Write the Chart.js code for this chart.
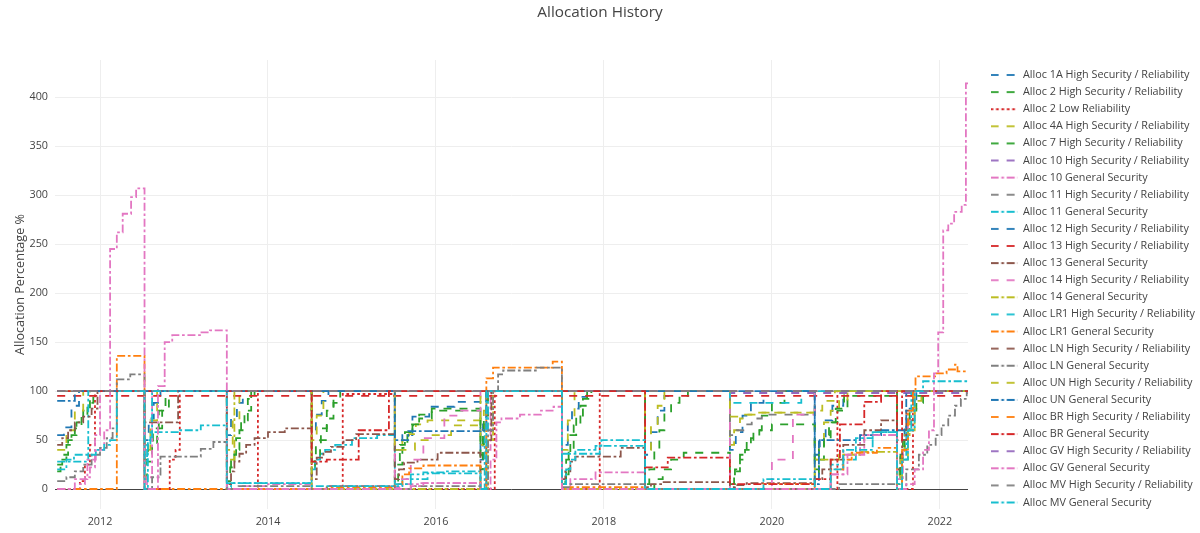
<!DOCTYPE html>
<html>
<head>
<meta charset="utf-8">
<title>Allocation History</title>
<script src="https://cdn.jsdelivr.net/npm/chart.js@4"></script>
<style>
  body { margin: 0; background: #fff; }
  #wrap { position: relative; width: 1200px; height: 533px; }
</style>
</head>
<body>
<div id="wrap"><canvas id="allocChart"></canvas></div>
<script>
// step series, [decimal year, allocation %]
const alloc1A = [[2011.49,55],[2011.57,63],[2011.66,85],[2011.75,100],
  [2012.53,50],[2012.58,72],[2012.64,88],[2012.72,100],
  [2013.51,55],[2013.56,72],[2013.63,88],[2013.7,100],
  [2014.52,60],[2014.57,76],[2014.64,90],[2014.72,100],
  [2015.51,40],[2015.6,55],[2015.72,74],[2015.92,84],[2016.22,89],
  [2016.53,30],[2016.56,66],[2016.6,100],
  [2017.5,45],[2017.57,70],[2017.62,82],[2017.7,94],[2017.8,100],
  [2018.49,35],[2018.56,58],[2018.64,80],[2018.72,95],[2018.82,100],
  [2019.5,40],[2019.57,58],[2019.65,75],[2019.75,88],[2019.9,100],
  [2020.51,35],[2020.57,52],[2020.64,70],[2020.72,85],[2020.85,100],
  [2021.49,10],[2021.53,40],[2021.58,66],[2021.64,82],[2021.72,100],[2022.34,100]];
const alloc2High = [[2011.49,18],[2011.53,30],[2011.6,45],[2011.66,55],[2011.72,68],[2011.8,80],[2011.88,100],
  [2012.53,10],[2012.56,28],[2012.62,45],[2012.68,62],[2012.74,80],[2012.82,100],
  [2013.51,8],[2013.55,22],[2013.6,40],[2013.66,60],[2013.72,80],[2013.8,100],
  [2014.52,15],[2014.56,30],[2014.62,50],[2014.7,72],[2014.78,88],[2014.86,100],
  [2015.51,5],[2015.55,25],[2015.6,42],[2015.66,55],[2015.72,65],[2015.8,72],[2015.95,80],
  [2016.53,20],[2016.56,60],[2016.6,100],
  [2017.5,5],[2017.54,15],[2017.58,40],[2017.64,65],[2017.72,85],[2017.8,100],
  [2018.49,5],[2018.54,20],[2018.6,40],[2018.66,60],[2018.72,78],[2018.8,88],[2018.9,95],[2019.0,100],
  [2019.5,5],[2019.55,18],[2019.62,35],[2019.7,48],[2019.78,60],[2019.88,75],[2020.0,88],[2020.15,100],
  [2020.51,10],[2020.56,30],[2020.62,50],[2020.7,68],[2020.78,80],[2020.9,95],
  [2021.49,5],[2021.52,25],[2021.56,50],[2021.62,70],[2021.7,88],[2021.8,100],[2022.34,100]];
const alloc2Low = [[2011.49,0],[2011.76,8],[2011.82,25],[2011.88,45],[2011.94,100],
  [2012.53,0],[2012.83,30],[2012.9,40],[2012.95,100],
  [2013.51,0],[2013.88,100],
  [2014.52,0],[2014.89,97],
  [2015.51,0],[2016.53,0],[2016.7,100],
  [2017.5,0],[2017.95,100],
  [2018.49,0],[2020.51,0],[2020.78,100],
  [2021.49,0],[2021.68,100],[2022.34,100]];
const alloc4A = [[2011.49,40],[2011.6,60],[2011.7,80],[2011.8,100],
  [2012.53,40],[2012.6,70],[2012.68,100],
  [2013.51,40],[2013.58,70],[2013.66,100],
  [2014.52,50],[2014.58,75],[2014.66,100],
  [2015.51,40],[2015.6,50],[2015.68,56],[2015.76,66],[2015.9,70],
  [2016.53,45],[2016.57,80],[2016.61,100],
  [2017.5,40],[2017.57,70],[2017.65,100],
  [2018.49,40],[2018.56,65],[2018.64,85],[2018.72,100],
  [2019.5,45],[2019.55,60],[2019.62,72],[2019.7,76],[2019.85,78],
  [2020.51,30],[2020.56,50],[2020.62,68],[2020.7,80],[2020.8,90],[2020.9,100],
  [2021.49,5],[2021.53,30],[2021.58,55],[2021.64,75],[2021.7,90],[2021.78,100],[2022.34,100]];
const alloc7 = [[2011.49,25],[2011.55,35],[2011.62,50],[2011.7,62],[2011.78,75],[2011.85,88],[2011.92,100],
  [2012.53,30],[2012.57,48],[2012.63,62],[2012.7,80],[2012.78,100],
  [2013.51,20],[2013.56,35],[2013.62,52],[2013.68,70],[2013.76,92],[2013.84,100],
  [2014.52,28],[2014.57,45],[2014.63,62],[2014.7,80],[2014.78,100],
  [2015.51,25],[2015.57,45],[2015.63,58],[2015.7,66],[2015.8,76],[2015.95,82],
  [2016.53,35],[2016.57,75],[2016.62,100],
  [2017.5,10],[2017.55,30],[2017.6,55],[2017.67,75],[2017.75,92],[2017.85,100],
  [2018.49,0],[2018.6,10],[2018.7,20],[2018.8,30],[2018.95,37],
  [2019.5,5],[2019.56,20],[2019.62,30],[2019.68,40],[2019.75,52],[2019.85,60],[2020.0,66],
  [2020.51,20],[2020.56,40],[2020.62,55],[2020.68,68],[2020.76,82],[2020.86,100],
  [2021.49,10],[2021.53,35],[2021.58,60],[2021.64,80],[2021.72,95],[2021.82,100],[2022.34,100]];
const alloc10High = [[2011.49,100],[2019.5,98],[2022.34,98]];
const alloc10Gen = [[2011.49,0],[2011.76,5],[2011.82,12],[2011.88,22],[2011.94,55],[2012.0,100],
  [2012.53,0],[2012.56,12],[2012.62,100],
  [2013.51,0],[2013.7,3],[2014.0,5],
  [2014.52,0],[2014.7,3],
  [2015.51,2],[2015.6,5],[2015.8,6],
  [2016.53,0],[2016.6,40],[2016.65,100],
  [2017.5,0],[2017.6,10],[2017.9,17],
  [2018.49,0],[2020.7,15],[2020.85,35],[2021.05,55],
  [2021.49,10],[2021.56,40],[2021.62,70],[2021.7,100],[2022.34,100]];
const alloc11High = [[2011.49,100],[2019.5,55],[2019.58,60],[2019.66,66],[2019.76,72],[2019.88,76],[2020.51,100],[2022.34,100]];
const alloc11Gen = [[2011.49,28],[2011.86,100],
  [2012.53,25],[2012.56,45],[2012.6,58],[2012.95,60],[2013.2,65],
  [2013.51,2],[2013.56,6],
  [2014.52,20],[2014.56,30],[2014.62,36],[2014.68,40],[2014.8,45],[2015.0,52],[2015.3,55],
  [2015.51,3],[2015.6,10],[2015.7,15],[2015.85,17],[2016.1,18],
  [2016.53,0],[2016.58,60],[2016.62,100],
  [2017.5,36],[2017.95,44],
  [2018.49,0],[2020.7,25],[2020.85,30],[2021.0,40],[2021.2,58],
  [2021.49,5],[2021.55,30],[2021.6,60],[2021.66,100],[2022.34,100]];
const alloc12High = [[2011.49,100],[2022.34,100]];
const alloc13High = [[2011.49,95],[2022.34,95]];
const alloc13Gen = [[2011.49,45],[2011.55,52],[2011.62,60],[2011.7,68],[2011.8,74],[2011.9,82],[2011.97,100],
  [2012.53,68],[2012.93,100],
  [2013.51,5],[2013.56,18],[2013.6,28],[2013.66,36],[2013.74,45],[2013.84,52],[2014.0,58],[2014.2,62],
  [2014.52,10],[2014.58,32],[2014.66,38],[2014.75,43],[2014.9,50],[2015.05,56],
  [2015.51,10],[2015.56,20],[2015.62,27],[2015.78,30],[2016.02,37],
  [2016.53,0],[2016.6,50],[2016.66,100],
  [2017.5,10],[2017.54,18],[2017.6,28],[2017.66,33],[2018.2,42],
  [2018.49,2],[2018.56,5],[2018.7,7],
  [2019.5,2],[2019.56,4],[2019.7,6],
  [2020.51,10],[2020.6,20],[2020.7,30],[2020.85,45],[2021.1,60],[2021.3,70],
  [2021.49,20],[2021.55,50],[2021.6,80],[2021.68,100],[2022.34,100]];
const alloc14High = [[2011.49,100],[2015.51,10],[2015.7,30],[2015.85,52],[2016.1,75],[2016.3,80],[2016.53,100],
  [2019.5,0],[2020.0,30],[2020.25,76],[2020.51,100],[2022.34,100]];
const alloc14Gen = [[2011.49,100],[2013.51,30],[2013.6,100],[2014.52,0],[2016.53,0],[2016.62,50],[2016.68,100],
  [2017.5,0],[2020.51,30],[2020.8,35],[2021.05,38],
  [2021.49,0],[2021.55,30],[2021.62,60],[2021.7,100],[2022.34,100]];
const allocLR1High = [[2011.49,100],[2019.5,88],[2020.35,100],[2022.34,100]];
const allocLR1Gen = [[2011.49,0],[2012.2,136],[2012.53,0],[2014.7,2],
  [2015.51,5],[2015.6,15],[2015.68,21],[2015.85,24],
  [2016.53,0],[2016.6,113],[2016.68,124],[2017.39,130],
  [2017.5,0],[2017.6,2],[2018.49,0],[2019.9,5],
  [2020.51,0],[2020.7,20],[2020.85,30],[2020.95,37],[2021.25,42],
  [2021.49,0],[2021.55,40],[2021.62,80],[2021.68,100],[2021.71,115],[2021.96,118],[2022.08,122],[2022.18,127],[2022.21,120],[2022.34,120]];
const allocLNHigh = [[2011.49,100],[2022.34,100]];
const allocLNGen = [[2011.49,8],[2011.6,12],[2011.7,18],[2011.8,25],[2011.9,35],[2012.0,42],[2012.08,52],[2012.15,62],[2012.2,112],[2012.36,117],
  [2012.53,0],[2012.62,12],[2012.72,33],[2013.2,41],[2013.35,48],
  [2013.51,0],[2013.65,3],[2014.52,0],[2014.7,3],[2015.51,0],[2015.7,3],
  [2016.53,0],[2016.62,60],[2016.68,100],[2016.74,117],[2016.8,121],[2017.2,124],
  [2017.5,2],[2017.6,5],[2018.49,0],[2020.8,5],
  [2021.49,0],[2021.6,20],[2021.75,35],[2021.85,45],[2021.95,55],[2022.02,65],[2022.1,75],[2022.18,85],[2022.25,92],[2022.32,100],[2022.34,100]];
const allocUNHigh = [[2011.49,100],[2015.51,40],[2015.75,50],[2015.92,55],[2016.18,65],[2016.53,100],
  [2019.5,74],[2019.6,76],[2019.8,78],[2020.51,80],[2020.6,90],[2020.75,100],[2022.34,100]];
const allocUNGen = [[2011.49,90],[2011.7,100],[2015.51,50],[2015.67,59],[2016.53,60],[2016.6,100],
  [2020.51,5],[2020.56,50],[2021.05,55],[2021.3,60],[2021.6,100],[2022.34,100]];
const allocBRHigh = [[2011.49,100],[2022.34,100]];
const allocBRGen = [[2011.49,100],[2014.52,28],[2014.7,30],[2015.08,60],[2015.44,100],
  [2018.49,22],[2018.76,32],[2019.5,5],
  [2020.51,10],[2020.7,30],[2020.81,66],[2021.1,89],[2021.3,100],
  [2021.49,50],[2021.55,100],[2022.34,100]];
const allocGVHigh = [[2011.49,100],[2022.34,100]];
const allocGVGen = [[2011.49,0],[2011.7,10],[2011.85,30],[2011.95,40],[2012.05,60],[2012.12,245],[2012.2,262],[2012.27,281],[2012.37,298],[2012.43,307],
  [2012.53,0],[2012.69,105],[2012.77,150],[2012.86,157],[2013.19,160],[2013.31,162],
  [2013.51,0],[2015.7,3],[2015.85,6],
  [2016.53,0],[2016.65,30],[2016.72,68],[2016.78,72],[2017.0,76],[2017.25,80],[2017.4,84],
  [2017.5,0],[2020.7,15],[2020.9,35],[2021.1,55],
  [2021.49,0],[2021.6,5],[2021.7,20],[2021.8,40],[2021.87,60],[2021.93,118],[2021.98,160],[2022.04,264],[2022.1,271],[2022.17,283],[2022.26,290],[2022.31,414],[2022.34,414]];
const allocMVHigh = [[2011.49,100],[2022.34,100]];
const allocMVGen = [[2011.49,20],[2011.6,30],[2011.69,35],[2011.95,40],[2012.05,45],[2012.12,50],[2012.2,100],
  [2012.53,0],[2012.57,50],[2012.62,100],
  [2013.51,6],[2014.52,3],
  [2015.51,5],[2015.7,10],[2015.9,16],
  [2016.53,0],[2016.6,100],
  [2017.5,5],[2017.55,20],[2017.6,30],[2017.66,40],[2017.9,44],[2017.97,50],
  [2018.49,0],[2019.9,10],
  [2020.51,0],[2020.7,20],[2020.85,40],[2021.0,52],[2021.2,58],
  [2021.49,0],[2021.55,30],[2021.62,60],[2021.7,100],[2021.8,110],[2022.34,110]];

const yTicks = [0, 50, 100, 150, 200, 250, 300, 350, 400];

// label, data, colour, dash style
const traces = [
  ['Alloc 1A High Security / Reliability', alloc1A, '#1f77b4', 'dash'],
  ['Alloc 2 High Security / Reliability', alloc2High, '#2ca02c', 'dash'],
  ['Alloc 2 Low Reliability', alloc2Low, '#d62728', 'dot'],
  ['Alloc 4A High Security / Reliability', alloc4A, '#bcbd22', 'dash'],
  ['Alloc 7 High Security / Reliability', alloc7, '#2ca02c', 'dash'],
  ['Alloc 10 High Security / Reliability', alloc10High, '#9467bd', 'dash'],
  ['Alloc 10 General Security', alloc10Gen, '#e377c2', 'dashdot'],
  ['Alloc 11 High Security / Reliability', alloc11High, '#7f7f7f', 'dash'],
  ['Alloc 11 General Security', alloc11Gen, '#17becf', 'dashdot'],
  ['Alloc 12 High Security / Reliability', alloc12High, '#1f77b4', 'dash'],
  ['Alloc 13 High Security / Reliability', alloc13High, '#d62728', 'dash'],
  ['Alloc 13 General Security', alloc13Gen, '#8c564b', 'dashdot'],
  ['Alloc 14 High Security / Reliability', alloc14High, '#e377c2', 'dash'],
  ['Alloc 14 General Security', alloc14Gen, '#bcbd22', 'dashdot'],
  ['Alloc LR1 High Security / Reliability', allocLR1High, '#17becf', 'dash'],
  ['Alloc LR1 General Security', allocLR1Gen, '#ff7f0e', 'dashdot'],
  ['Alloc LN High Security / Reliability', allocLNHigh, '#8c564b', 'dash'],
  ['Alloc LN General Security', allocLNGen, '#7f7f7f', 'dashdot'],
  ['Alloc UN High Security / Reliability', allocUNHigh, '#bcbd22', 'dash'],
  ['Alloc UN General Security', allocUNGen, '#1f77b4', 'dashdot'],
  ['Alloc BR High Security / Reliability', allocBRHigh, '#ff7f0e', 'dash'],
  ['Alloc BR General Security', allocBRGen, '#d62728', 'dashdot'],
  ['Alloc GV High Security / Reliability', allocGVHigh, '#9467bd', 'dash'],
  ['Alloc GV General Security', allocGVGen, '#e377c2', 'dashdot'],
  ['Alloc MV High Security / Reliability', allocMVHigh, '#7f7f7f', 'dash'],
  ['Alloc MV General Security', allocMVGen, '#17becf', 'dashdot']
];

const dashes = { dash: [8, 8], dot: [2.7, 2.7], dashdot: [8, 2.7, 2.7, 2.7] };
const font = 'Open Sans';

// small dashed sample used as the legend symbol
function legendSample(color, dash) {
  let c = document.createElement('canvas');
  c.width = 27;
  c.height = 4;
  let g = c.getContext('2d');
  g.strokeStyle = color;
  g.lineWidth = 1.8;
  g.setLineDash(dash);
  g.beginPath();
  g.moveTo(0, 2);
  g.lineTo(27, 2);
  g.stroke();
  return c;
}

let datasets = traces.map(([label, pts, color, dash], i) => ({
  label: label,
  data: pts.map(p => ({ x: p[0], y: p[1] })),
  borderColor: color,
  backgroundColor: color,
  borderWidth: 1.8,
  borderDash: dashes[dash],
  // the two grey 100% lines interleave into one solid line
  borderDashOffset: i === 7 ? 8 : 0,
  stepped: 'before',
  pointRadius: 0,
  pointStyle: legendSample(color, dashes[dash]),
  fill: false,
  order: traces.length - i   // later traces drawn on top
}));

// keep the legend column where it sits in the original
const legendPlacement = {
  id: 'legendPlacement',
  afterInit(chart) {
    let legend = chart.legend;
    let fit = legend.fit;
    legend.fit = function () {
      fit.call(this);
      this.width = 232;
    };
    let draw = legend.draw;
    legend.draw = function () {
      let left = this.left, top = this.top;
      this.left = 984.3;
      this.top = 63.3;
      draw.call(this);
      this.left = left;
      this.top = top;
    };
  }
};

new Chart(document.getElementById('allocChart'), {
  type: 'line',
  data: { datasets: datasets },
  plugins: [legendPlacement],
  options: {
    responsive: true,
    maintainAspectRatio: false,
    animation: false,
    events: [],
    layout: { padding: 0 },
    scales: {
      x: {
        type: 'linear',
        min: 2011.464,
        max: 2022.335,
        border: { display: false },
        grid: { color: '#eee', drawTicks: false },
        ticks: {
          stepSize: 2,
          includeBounds: false,
          padding: 6,
          color: '#444',
          font: { family: font, size: 10.8 },
          callback: v => String(v)
        },
        afterFit: s => { s.height = 24; }
      },
      y: {
        min: -20.4,
        max: 438,
        border: { display: false },
        grid: {
          color: c => (c.tick && c.tick.value === 0 ? '#444' : '#eee'),
          drawTicks: false
        },
        afterBuildTicks: s => { s.ticks = yTicks.map(v => ({ value: v })); },
        ticks: {
          padding: 7,
          color: '#444',
          font: { family: font, size: 10.8 }
        },
        title: {
          display: true,
          text: 'Allocation Percentage %',
          color: '#444',
          font: { family: font, size: 12.6 },
          padding: { top: 13, bottom: 0 }
        },
        afterFit: s => { s.width = 55; }
      }
    },
    plugins: {
      title: {
        display: true,
        text: 'Allocation History',
        color: '#444',
        font: { family: font, size: 15.3, weight: 'normal' },
        padding: { top: 3, bottom: 38.6 }
      },
      legend: {
        position: 'right',
        align: 'start',
        labels: {
          usePointStyle: true,
          pointStyleWidth: 27,
          padding: 6.3,
          color: '#444',
          font: { family: font, size: 10.8 },
          sort: (a, b) => a.datasetIndex - b.datasetIndex
        }
      },
      tooltip: { enabled: false }
    }
  }
});
</script>
</body>
</html>
